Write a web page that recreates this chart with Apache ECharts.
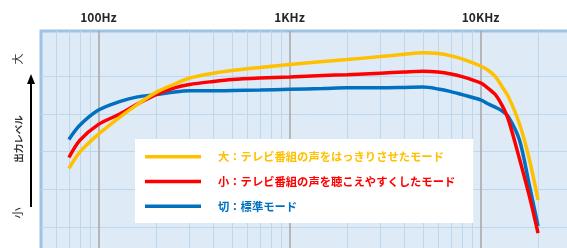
<!DOCTYPE html>
<html>
<head>
<meta charset="utf-8">
<script src="https://cdn.jsdelivr.net/npm/echarts@6/dist/echarts.min.js"></script>
<style>
html, body { margin: 0; padding: 0; background: #fff; }
#main { width: 567px; height: 248px; }
</style>
</head>
<body>
<div id="main"></div>
<script>
// 周波数 (Hz)
var freqs = [70, 80, 100, 130, 160, 200, 250, 300, 400, 500, 700, 1000, 1500, 2000, 3000, 4000, 5000, 6000, 7000, 8000, 10000, 11000, 12000, 13000, 14000, 16000, 18000, 20000];
// 出力レベル (相対値、目盛り1つ = 1)
var levelLarge = [2.55, 2.99, 3.46, 3.92, 4.25, 4.57, 4.79, 4.95, 5.08, 5.15, 5.23, 5.31, 5.39, 5.44, 5.52, 5.58, 5.62, 5.60, 5.54, 5.46, 5.27, 5.15, 4.98, 4.71, 4.45, 3.73, 2.80, 1.71];
var levelSmall = [2.84, 3.30, 3.72, 4.00, 4.26, 4.51, 4.69, 4.78, 4.86, 4.91, 4.95, 4.98, 5.02, 5.04, 5.08, 5.11, 5.13, 5.11, 5.06, 4.99, 4.82, 4.67, 4.50, 4.21, 3.84, 2.80, 1.82, 0.83];
var levelOff = [3.32, 3.70, 4.10, 4.33, 4.45, 4.51, 4.58, 4.61, 4.61, 4.62, 4.63, 4.65, 4.67, 4.69, 4.69, 4.70, 4.71, 4.66, 4.59, 4.51, 4.37, 4.26, 4.17, 4.07, 3.92, 3.30, 2.11, 1.02];

var seriesNames = ['大：テレビ番組の声をはっきりさせたモード', '小：テレビ番組の声を聴こえやすくしたモード', '切：標準モード'];
var seriesColors = ['#FFC000', '#FF0000', '#0070C0'];

var tickFreqs = [100, 1000, 10000];
var tickLabels = ['100Hz', '1KHz', '10KHz'];
var minorFreqs = [60, 70, 80, 90, 200, 300, 400, 500, 600, 700, 800, 900, 2000, 3000, 4000, 5000, 6000, 7000, 8000, 9000, 20000];
var levelLines = [1, 2, 3, 4, 5];

var FONT = 'Noto Sans CJK JP';

function pairs(vals) {
    return freqs.map(function (f, i) { return [f, vals[i]]; });
}

var gridLines = [];
minorFreqs.forEach(function (f) {
    gridLines.push({ xAxis: f, lineStyle: { color: '#BDD7EE', width: 1, type: 'solid' } });
});
levelLines.forEach(function (v) {
    gridLines.push({ yAxis: v, lineStyle: { color: '#BDD7EE', width: 1, type: 'solid' } });
});
tickFreqs.forEach(function (f) {
    gridLines.push({ xAxis: f, lineStyle: { color: '#A6A6A6', width: 1.5, type: 'solid' } });
});

var myChart = echarts.init(document.getElementById('main'));
var option = {
    animation: false,
    grid: {
        left: 41, top: 31, width: 529, height: 233.4,
        outerBoundsMode: 'none',
        show: true,
        backgroundColor: '#DEEAF6',
        borderColor: '#9DC3E6',
        borderWidth: 3
    },
    xAxis: {
        type: 'log',
        logBase: 10,
        min: 50,
        max: 29400,
        position: 'top',
        axisLine: { show: false },
        axisTick: { show: false },
        splitLine: { show: false },
        axisLabel: {
            customValues: tickFreqs,
            formatter: function (v) {
                var i = tickFreqs.indexOf(Math.round(v));
                return i >= 0 ? tickLabels[i] : '';
            },
            margin: 8,
            fontFamily: FONT,
            fontWeight: 'bold',
            fontSize: 12,
            color: '#262626'
        }
    },
    yAxis: {
        type: 'value',
        min: 0,
        max: 6.2,
        show: false
    },
    legend: {
        left: 135,
        top: 139,
        orient: 'vertical',
        backgroundColor: '#fff',
        padding: [12, 18, 11, 10],
        itemWidth: 56,
        itemHeight: 14,
        itemGap: 13.5,
        selectedMode: false,
        data: seriesNames.map(function (n, i) {
            return { name: n, icon: 'path://M0,0h56v3.5h-56z', textStyle: { color: seriesColors[i] } };
        }),
        textStyle: {
            fontFamily: FONT,
            fontWeight: 'bold',
            fontSize: 11.3,
            padding: [0, 0, 0, 12]
        }
    },
    graphic: [
        { type: 'text', x: 18, y: 59, rotation: Math.PI / 2,
          style: { text: '大', fill: '#333', font: '11px "Noto Sans CJK JP"', align: 'center', verticalAlign: 'middle' } },
        { type: 'text', x: 18, y: 139, rotation: Math.PI / 2,
          style: { text: '出力レベル', fill: '#333', font: 'bold 9.5px "Noto Sans CJK JP"', align: 'center', verticalAlign: 'middle' } },
        { type: 'text', x: 18, y: 213, rotation: Math.PI / 2,
          style: { text: '小', fill: '#333', font: '11px "Noto Sans CJK JP"', align: 'center', verticalAlign: 'middle' } },
        { type: 'line', shape: { x1: 31, y1: 82, x2: 31, y2: 207 }, style: { stroke: '#000', lineWidth: 2 } },
        { type: 'polygon', shape: { points: [[31, 74], [27, 84], [35, 84]] }, style: { fill: '#000' } }
    ],
    series: [
        {
            type: 'line', name: 'grid', data: [], silent: true, z: 1,
            markLine: { silent: true, z: 1, symbol: ['none', 'none'], label: { show: false }, data: gridLines }
        },
        {
            name: seriesNames[2], type: 'line', data: pairs(levelOff), smooth: 0.3, symbol: 'none', z: 3,
            lineStyle: { color: seriesColors[2], width: 3.5 }, itemStyle: { color: seriesColors[2] }
        },
        {
            name: seriesNames[1], type: 'line', data: pairs(levelSmall), smooth: 0.3, symbol: 'none', z: 3,
            lineStyle: { color: seriesColors[1], width: 3.5 }, itemStyle: { color: seriesColors[1] }
        },
        {
            name: seriesNames[0], type: 'line', data: pairs(levelLarge), smooth: 0.3, symbol: 'none', z: 3,
            lineStyle: { color: seriesColors[0], width: 3.5 }, itemStyle: { color: seriesColors[0] }
        }
    ]
};
myChart.setOption(option);
</script>
</body>
</html>
